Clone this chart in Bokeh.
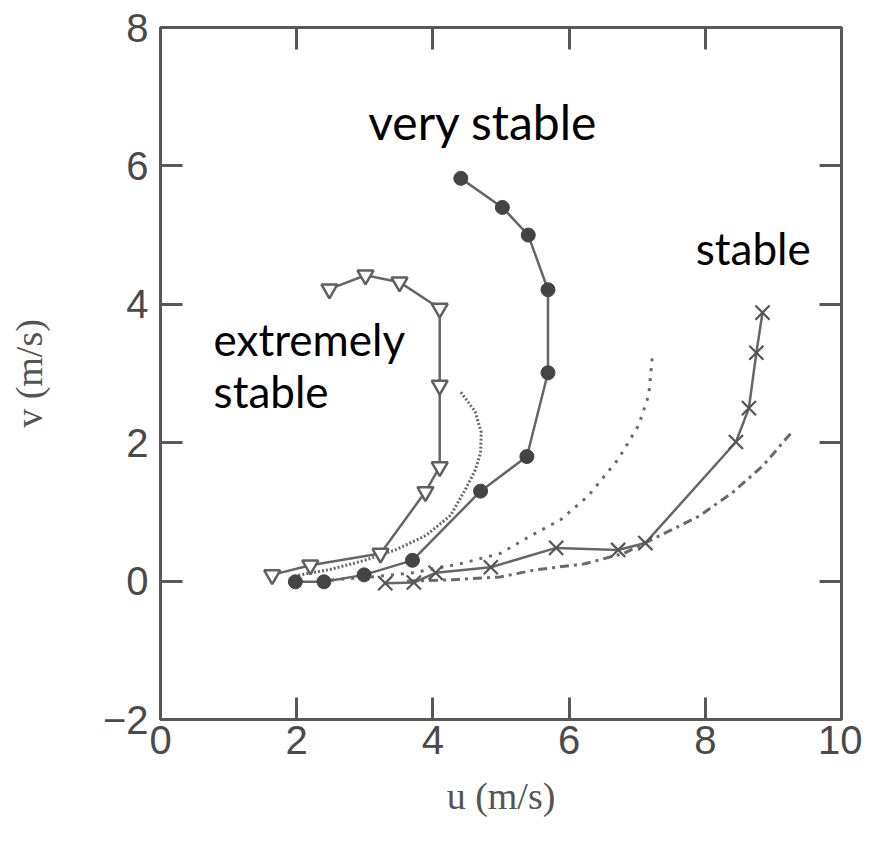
from bokeh.plotting import figure
from bokeh.models import LinearAxis, FixedTicker, Label, Range1d, CustomJSTickFormatter
from bokeh.embed import file_html
from bokeh.resources import INLINE

# ---- data ----
x_ticks = [0, 2, 4, 6, 8, 10]
y_ticks = [-2, 0, 2, 4, 6, 8]

# "very stable" observations (filled circles)
very_u = [4.41, 5.02, 5.40, 5.69, 5.69, 5.38, 4.70, 3.70, 2.99, 2.40, 1.98]
very_v = [5.82, 5.40, 5.00, 4.21, 3.01, 1.80, 1.30, 0.30, 0.09, -0.01, -0.01]

# "extremely stable" observations (open down-triangles)
ext_u = [2.48, 3.01, 3.51, 4.10, 4.10, 4.10, 3.89, 3.23, 2.20, 1.64]
ext_v = [4.22, 4.42, 4.32, 3.94, 2.83, 1.65, 1.29, 0.40, 0.23, 0.09]

# "stable" observations (crosses)
stab_u = [8.84, 8.75, 8.64, 8.45, 7.12, 6.72, 5.81, 4.85, 4.04, 3.72, 3.30]
stab_v = [3.88, 3.30, 2.50, 2.01, 0.55, 0.45, 0.48, 0.20, 0.12, -0.02, -0.03]

# model curves
ext_model_u = [4.41, 4.62, 4.71, 4.70, 4.62, 4.48, 4.26, 3.90, 3.45, 3.00, 2.50, 2.00]
ext_model_v = [2.73, 2.45, 2.15, 1.85, 1.60, 1.33, 0.95, 0.66, 0.45, 0.30, 0.17, 0.08]

very_model_u = [7.22, 7.17, 7.02, 6.72, 6.28, 5.88, 5.43, 4.99, 4.40, 3.70, 3.00, 2.40]
very_model_v = [3.22, 2.69, 2.25, 1.76, 1.23, 0.89, 0.65, 0.40, 0.25, 0.12, 0.05, 0.01]

stab_model_u = [9.25, 8.85, 8.40, 7.91, 7.42, 6.80, 6.23, 5.49, 4.99, 4.30, 3.60]
stab_model_v = [2.13, 1.67, 1.28, 0.94, 0.70, 0.40, 0.25, 0.16, 0.06, 0.02, 0.00]

x_label = "u (m/s)"
y_label = "v (m/s)"

# ---- figure ----
p = figure(frame_width=681, frame_height=692, width=862, height=838,
           x_range=Range1d(0, 10), y_range=Range1d(-2, 8),
           output_backend="svg", toolbar_location=None,
           x_axis_label=x_label, y_axis_label=y_label)
p.min_border_left = 160
p.min_border_right = 21
p.min_border_top = 27
p.min_border_bottom = 119
p.grid.visible = False
p.background_fill_color = "white"
p.border_fill_color = "white"
p.outline_line_color = "#585858"
p.outline_line_width = 3

AX = "#585858"
for ax in [p.xaxis[0], p.yaxis[0]]:
    ax.axis_line_color = None
    ax.major_tick_in = 22
    ax.major_tick_out = 0
    ax.major_tick_line_color = AX
    ax.major_tick_line_width = 3
    ax.minor_tick_line_color = None
    ax.major_label_text_font = "Liberation Sans"
    ax.major_label_text_font_size = "40px"
    ax.major_label_text_color = "#4a4a4a"
    ax.axis_label_text_font = "Liberation Serif"
    ax.axis_label_text_font_size = "38px"
    ax.axis_label_text_font_style = "normal"
    ax.axis_label_text_color = "#555555"

p.xaxis[0].ticker = FixedTicker(ticks=x_ticks)
p.yaxis[0].ticker = FixedTicker(ticks=y_ticks)
p.xaxis[0].major_label_standoff = 6
p.yaxis[0].major_label_standoff = 12
p.xaxis[0].axis_label_standoff = 18
p.yaxis[0].axis_label_standoff = 50

# mirrored inward ticks on top and right (no labels)
blank = CustomJSTickFormatter(code="return '';")
top = LinearAxis(ticker=FixedTicker(ticks=x_ticks), formatter=blank)
right = LinearAxis(ticker=FixedTicker(ticks=y_ticks), formatter=blank)
for ax in [top, right]:
    ax.axis_line_color = None
    ax.major_tick_in = 22
    ax.major_tick_out = 0
    ax.major_tick_line_color = AX
    ax.major_tick_line_width = 3
    ax.minor_tick_line_color = None
    ax.major_label_standoff = 0
p.add_layout(top, "above")
p.add_layout(right, "right")

LC = "#666666"
# model curves
p.line(ext_model_u, ext_model_v, line_color="#6a6a6a", line_width=3, line_dash="2 2")
p.line(very_model_u, very_model_v, line_color="#6a6a6a", line_width=3, line_dash="3 7")
p.line(stab_model_u, stab_model_v, line_color="#6a6a6a", line_width=3, line_dash="9 5 3 5")

# observations
p.line(very_u, very_v, line_color=LC, line_width=2.5)
p.scatter(very_u, very_v, marker="circle", size=14, fill_color="#444444", line_color="#444444")

p.line(ext_u, ext_v, line_color=LC, line_width=2.5)
p.scatter(ext_u, ext_v, marker="inverted_triangle", size=16, fill_color="white",
          line_color="#5f5f5f", line_width=2.5)

p.line(stab_u, stab_v, line_color=LC, line_width=2.5)
p.scatter(stab_u, stab_v, marker="x", size=20, line_color="#555555", line_width=2.2)

# annotations
FONT = "Lato"
for txt, x, y, fs in [("very stable", 3.05, 6.64, "48px"), ("stable", 7.86, 4.82, "44px"),
                      ("extremely", 0.78, 3.50, "44px"), ("stable", 0.78, 2.74, "44px")]:
    p.add_layout(Label(x=x, y=y, text=txt, text_font=FONT, text_font_size=fs,
                       text_color="black", text_baseline="alphabetic", text_align="left"))

open("out.html", "w").write(file_html(p, INLINE))
